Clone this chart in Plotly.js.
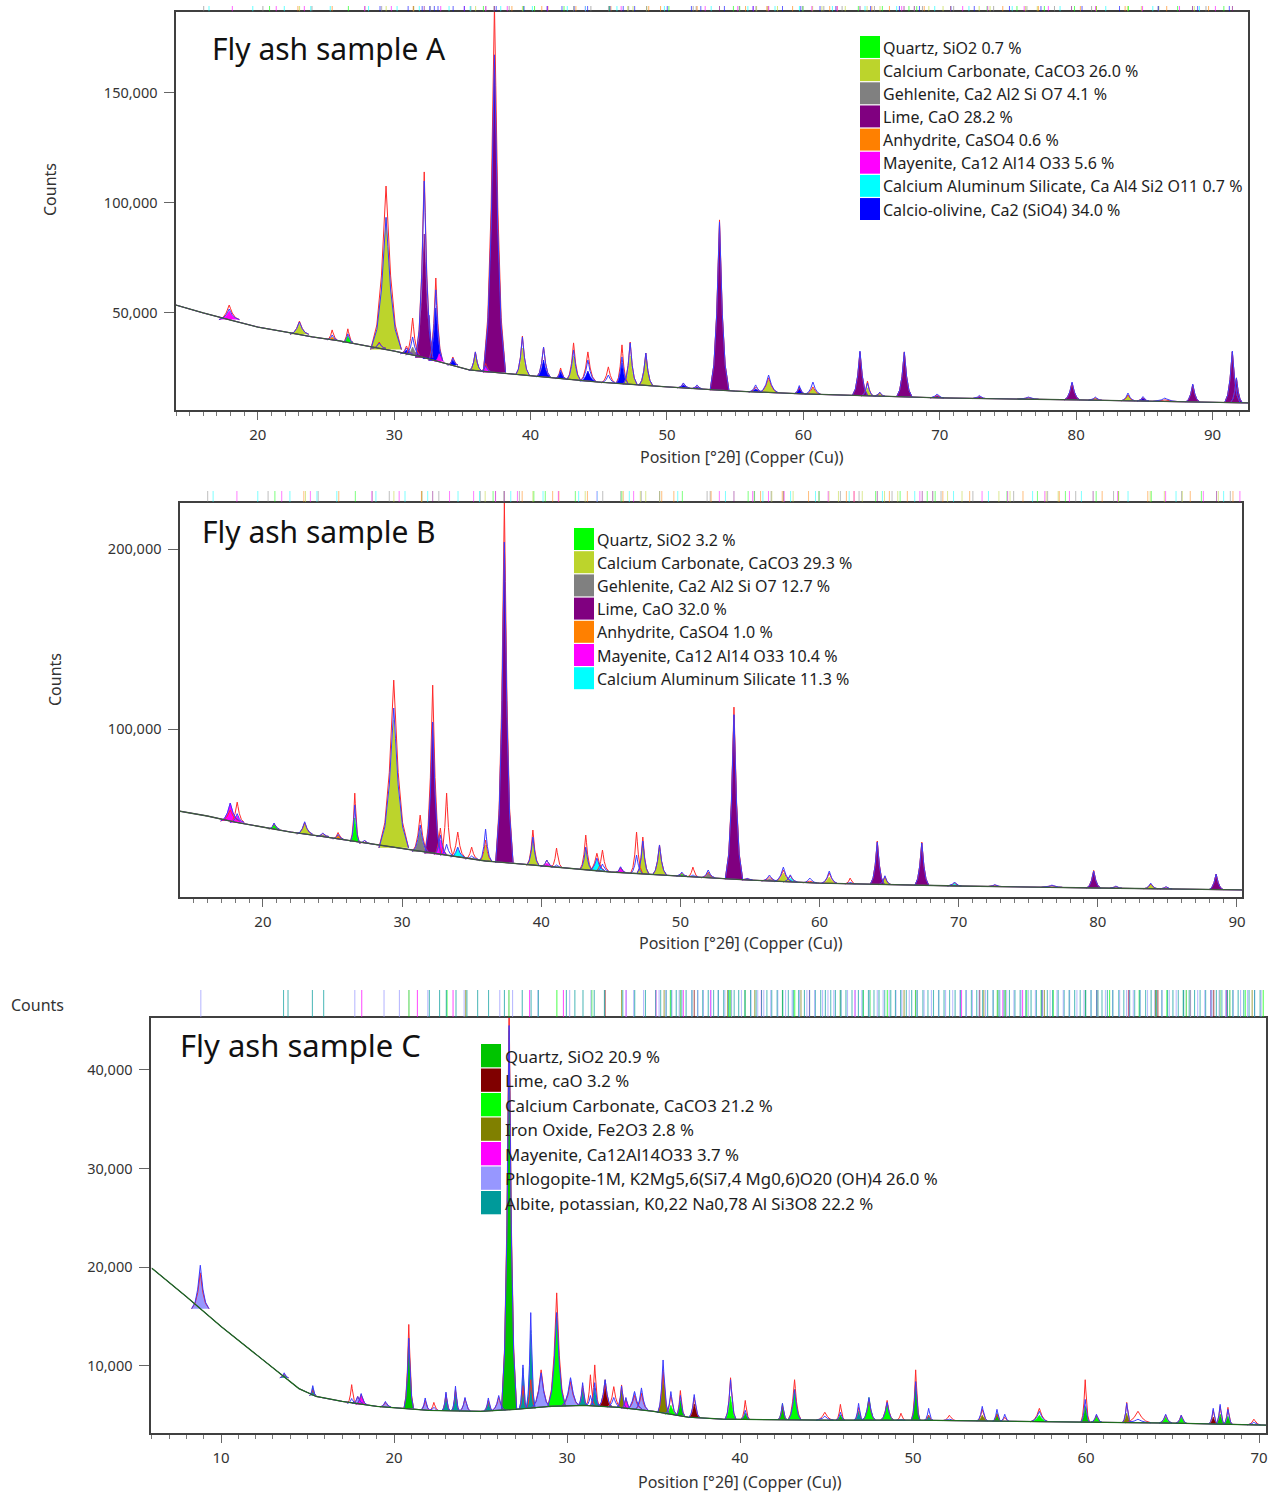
<!DOCTYPE html>
<html><head><meta charset="utf-8">
<script src="https://cdn.plot.ly/plotly-3.0.1.min.js"></script>
<style>html,body{margin:0;padding:0;background:#fff}#chart{width:1275px;height:1494px}</style>
</head><body><div id="chart"></div>
<script>
// ================= DATA =================
// ---- Panel A (Fly ash sample A) ----
const A_title = "Fly ash sample A";
const A_names = ["Quartz, SiO2 0.7 %", "Calcium Carbonate, CaCO3 26.0 %", "Gehlenite, Ca2 Al2 Si O7 4.1 %", "Lime, CaO 28.2 %", "Anhydrite, CaSO4 0.6 %", "Mayenite, Ca12 Al14 O33 5.6 %", "Calcium Aluminum Silicate, Ca Al4 Si2 O11 0.7 %", "Calcio-olivine, Ca2 (SiO4) 34.0 %"];
const A_bgX = [14, 16, 18, 20, 22, 24, 26, 28, 30, 32, 34, 35.5, 37, 40, 45, 50, 55, 60, 70, 80, 92.6];
const A_bgY = [53600, 50000, 46800, 43600, 41400, 39100, 37300, 35000, 32700, 30000, 26800, 24100, 23200, 21400, 18600, 16400, 14500, 13200, 11400, 10500, 9100];
const A_pos   = [17.9, 23.05, 25.45, 26.6, 28.9, 29.4, 30.9, 31.35, 32.2, 32.55, 33.05, 33.3, 34.3, 35.95, 36.7, 37.35, 39.4, 40.95, 42.2, 43.15, 44.2, 45.7, 46.7, 47.3, 48.45, 51.2, 52.2, 53.85, 56.5, 57.45, 59.7, 60.7, 64.15, 64.7, 65.6, 67.4, 69.8, 72.9, 76.5, 79.7, 81.4, 83.8, 84.9, 86.5, 88.55, 91.45, 91.75];
const A_phase = [5, 1, 4, 0, 7, 1, 7, 2, 3, 7, 7, 5, 7, 1, 5, 3, 1, 7, 7, 1, 7, -1, 7, 1, 1, 7, 7, 3, 7, 1, 7, 1, 3, 1, 1, 3, 7, 7, -1, 3, 1, 1, 7, -1, 3, 3, 3];
const A_base  = [47000, 40300, 37800, 36600, 33900, 33400, 31500, 30900, 29700, 29100, 28300, 27900, 26300, 23800, 23400, 23000, 21800, 20900, 20200, 19600, 19000, 18300, 17900, 17600, 17100, 16000, 15600, 14900, 14100, 13800, 13300, 13100, 12400, 12300, 12200, 11900, 11400, 11100, 10800, 10500, 10300, 10100, 10000, 9800, 9600, 9200, 9200];
const A_fill  = [50900, 45000, 39100, 39500, 35500, 93200, 33200, 34500, 85900, 49000, 52300, 31500, 28600, 31800, 25500, 167300, 34100, 28600, 23200, 30500, 23600, null, 27300, 30500, 30900, 17300, 16400, 90000, 15500, 19500, 16400, 15900, 31800, 16000, 13500, 31800, 12300, 11800, null, 18200, 11200, 12700, 11300, null, 17300, 32300, 20000];
const A_calc  = [51800, 45900, 40000, 40500, 36400, 93500, 34100, 39100, 110000, null, 60500, null, 29500, 32300, 26000, 167300, 39100, 34500, 24000, 33200, 28600, 21800, 30000, 36400, 31800, 18200, 17300, 91400, 17300, 21800, 17000, 18600, 32700, 18200, 14000, 32300, 13200, 12500, 11800, 18600, 11800, 13600, 12000, 11300, 17700, 32700, 20500];
const A_obs   = [53600, 46300, 42300, 42800, 36800, 107700, 35000, 47700, 114100, null, 65900, null, 30000, 32300, 27000, 190000, 39500, 34500, 25000, 36400, 32300, 25500, 35500, 36800, 31800, 18000, 17000, 92300, 16400, 20500, 16000, 16400, 32300, 19000, 13800, 32300, 12500, 12000, 11500, 18200, 11400, 12700, 11500, 10500, 17300, 32300, 20500];
const A_w     = [0.6, 0.55, 0.3, 0.3, 0.4, 0.9, 0.35, 0.4, 0.5, 0.35, 0.4, 0.3, 0.3, 0.35, 0.3, 0.65, 0.4, 0.4, 0.3, 0.4, 0.45, 0.4, 0.35, 0.4, 0.4, 0.35, 0.3, 0.55, 0.4, 0.55, 0.3, 0.45, 0.45, 0.35, 0.3, 0.45, 0.4, 0.4, 0.6, 0.45, 0.4, 0.4, 0.35, 0.7, 0.4, 0.45, 0.35];

// ---- Panel B ----
const B_title = "Fly ash sample B";
const B_names = ["Quartz, SiO2 3.2 %", "Calcium Carbonate, CaCO3 29.3 %", "Gehlenite, Ca2 Al2 Si O7 12.7 %", "Lime, CaO 32.0 %", "Anhydrite, CaSO4 1.0 %", "Mayenite, Ca12 Al14 O33 10.4 %", "Calcium Aluminum Silicate 11.3 %"];
const B_bgX = [14, 16, 18, 20, 22, 24, 26, 28, 30, 32, 34, 36, 37, 40, 45, 50, 55, 60, 70, 80, 90.4];
const B_bgY = [54400, 51700, 48300, 45600, 42800, 40600, 38300, 35600, 33300, 31100, 28900, 26700, 26100, 23900, 20600, 18300, 16100, 14400, 12800, 11700, 10600];
const B_pos   = [17.65, 18.15, 20.8, 23.0, 24.3, 25.4, 26.6, 27.3, 29.4, 31.3, 32.2, 32.75, 33.2, 34.0, 35.0, 36.0, 37.35, 39.4, 40.4, 41.1, 43.2, 44.0, 44.4, 45.7, 46.85, 47.3, 48.5, 50.1, 50.9, 52.0, 53.85, 54.8, 56.4, 57.4, 57.9, 59.3, 60.7, 62.2, 64.15, 64.7, 67.35, 69.7, 72.6, 76.7, 79.7, 81.3, 83.8, 84.9, 88.5];
const B_phase = [5, 5, 0, 1, 2, 4, 0, -1, 1, 2, 3, 5, -1, 6, -1, 1, 3, 1, 5, -1, 1, 6, -1, 5, -1, 1, 1, 0, -1, 2, 3, 5, 2, 1, 6, -1, 1, -1, 3, 1, 3, 6, -1, -1, 3, -1, 1, -1, 3];
const B_base  = [48900, 48100, 44500, 41700, 40300, 39000, 37500, 36500, 34000, 31900, 30900, 30300, 29800, 28900, 27800, 26700, 25800, 24300, 23600, 23200, 21800, 21300, 21100, 20300, 19700, 19500, 19000, 18300, 17900, 17400, 16600, 16200, 15600, 15300, 15100, 14600, 14300, 14000, 13700, 13600, 13200, 12800, 12500, 12100, 11700, 11600, 11300, 11200, 10800];
const B_fill  = [58900, 52000, 47200, 47800, 41300, 41100, 50600, null, 105000, 43900, 103900, 38300, null, 33900, null, 35600, 203900, 39400, 25600, null, 33900, 27200, null, 23300, null, 37200, 34400, 19500, null, 20000, 107800, 16800, 16800, 20000, 17200, null, 17800, null, 37200, 17800, 36700, 14400, null, null, 21100, null, 13900, null, 19400];
const B_calc  = [58900, 53000, 47800, 48500, 42300, 41500, 57800, 38300, 111700, 46700, 103900, 41100, 36000, 34400, 29500, 44400, 203900, 40000, 27200, 24500, 34400, 28300, 25000, 23500, 30000, 37800, 35600, 20500, 19000, 21700, 108000, 17200, 18900, 23300, 19000, 17200, 21100, 14800, 37200, 18500, 36700, 15000, 13600, 13300, 21100, 12800, 14400, 12500, 19400];
const B_obs   = [55000, 59400, 47500, 48000, 42000, 42500, 64400, 38000, 127200, 52200, 124400, 45000, 64400, 42800, 34400, 38300, 226000, 43900, 27200, 33900, 41100, 31000, 32800, 23000, 42800, 40000, 35600, 20000, 23300, 20500, 112200, 17000, 17800, 21700, 18500, 15500, 20000, 17200, 37800, 18000, 37200, 14500, 13300, 13000, 21500, 12500, 13900, 12300, 19400];
const B_w     = [0.55, 0.4, 0.3, 0.45, 0.35, 0.3, 0.25, 0.3, 0.85, 0.45, 0.45, 0.35, 0.35, 0.4, 0.35, 0.35, 0.5, 0.35, 0.35, 0.3, 0.35, 0.45, 0.35, 0.3, 0.35, 0.35, 0.4, 0.3, 0.3, 0.4, 0.5, 0.3, 0.45, 0.5, 0.4, 0.4, 0.45, 0.3, 0.4, 0.35, 0.4, 0.4, 0.4, 0.6, 0.4, 0.35, 0.4, 0.35, 0.4];

// ---- Panel C ----
const C_title = "Fly ash sample C";
const C_names = ["Quartz, SiO2 20.9 %", "Lime, caO 3.2 %", "Calcium Carbonate, CaCO3 21.2 %", "Iron Oxide, Fe2O3 2.8 %", "Mayenite, Ca12Al14O33 3.7 %", "Phlogopite-1M, K2Mg5,6(Si7,4 Mg0,6)O20 (OH)4 26.0 %", "Albite, potassian, K0,22 Na0,78 Al Si3O8 22.2 %"];
const C_bgX = [6, 8, 10, 12, 13.6, 14.5, 15.5, 17, 19, 22, 25, 27, 29, 31, 33, 35, 37, 39, 45, 50, 55, 60, 65, 70.4];
const C_bgY = [19900, 17000, 14000, 11200, 8900, 7700, 6900, 6400, 5900, 5500, 5400, 5600, 5900, 6000, 5800, 5400, 4800, 4600, 4500, 4500, 4400, 4300, 4200, 4000];
const C_pos   = [8.8, 13.65, 15.3, 17.55, 17.9, 18.1, 19.5, 20.85, 21.8, 22.3, 23.0, 23.55, 24.1, 25.45, 26.05, 26.65, 27.45, 27.9, 28.5, 29.4, 30.2, 30.9, 31.35, 31.6, 32.2, 32.7, 33.15, 33.4, 33.9, 34.3, 35.55, 36.0, 36.55, 37.35, 39.45, 40.3, 42.45, 43.15, 44.9, 45.8, 46.85, 47.45, 48.5, 49.3, 50.15, 50.9, 52.1, 54.0, 54.85, 55.3, 57.3, 59.95, 60.6, 62.35, 63.0, 64.6, 65.5, 67.35, 67.75, 68.2, 69.7];
const C_phase = [5, 6, 6, -1, 5, 4, 5, 0, 5, -1, 6, 6, 5, 6, 5, 0, 6, 6, 5, 2, 5, 6, -1, 6, 1, -1, 3, 4, 5, 5, 3, 2, 0, 1, 2, 0, 0, 2, -1, 0, 6, 2, 2, -1, 0, 6, -1, 3, 0, -1, 2, 0, 2, 3, -1, 2, 2, 1, 0, 0, -1];
const C_base  = [15800, 8800, 7000, 6200, 6200, 6100, 5850, 5700, 5550, 5500, 5470, 5450, 5430, 5450, 5500, 5570, 5650, 5700, 5820, 5920, 5960, 6000, 5960, 5940, 5880, 5830, 5770, 5720, 5620, 5540, 5240, 5100, 4940, 4770, 4600, 4580, 4540, 4530, 4500, 4500, 4500, 4500, 4500, 4500, 4500, 4480, 4460, 4420, 4400, 4390, 4350, 4300, 4290, 4250, 4240, 4210, 4190, 4120, 4110, 4090, 4030];
const C_fill  = [19500, 9100, 7900, null, 6800, 7100, 6300, 12800, 6550, null, 7050, 7550, 6400, 6300, 6500, 44000, 9800, 13600, 9300, 15400, 8800, 7600, null, 7800, 8600, null, 7570, 6550, 7400, 7500, 9100, 6000, 6500, 6150, 6900, 5200, 6200, 7600, null, 5000, 5400, 6800, 6300, null, 8400, 5000, null, 5000, 5200, null, 5000, 5900, 4900, 5200, null, 4800, 4800, 4800, 5100, 4900, null];
const C_calc  = [20200, 9300, 8000, 6700, 6900, 7200, 6400, 12800, 6750, 5800, 7350, 7950, 6800, 6750, 7000, 44500, 10100, 15400, 9300, 15400, 8800, 8300, 7000, 8300, 8600, 6800, 7970, 6800, 7400, 7770, 10600, 7400, 7000, 7100, 8600, 5500, 6200, 7600, 4900, 5300, 6200, 6800, 6300, 4600, 8400, 5700, 4600, 5900, 5600, 5100, 5400, 6600, 5100, 6200, 4600, 5100, 5000, 5700, 6100, 5600, 4300];
const C_obs   = [19400, 9200, 7600, 8100, 6900, 7100, 6300, 14200, 6500, 6300, 7200, 7600, 6700, 6500, 6800, 47000, 8000, 8600, 9600, 17400, 8400, 8000, 9100, 10100, 8100, 7900, 8070, 6700, 7000, 7200, 9600, 7000, 7500, 6800, 8800, 6500, 6000, 8600, 5300, 6100, 5800, 6600, 6500, 5200, 9600, 5000, 5000, 5600, 5100, 4800, 5700, 8600, 5000, 6300, 5400, 5000, 5000, 5500, 5900, 5800, 4600];
const C_w     = [0.4, 0.2, 0.15, 0.2, 0.25, 0.25, 0.25, 0.22, 0.2, 0.2, 0.18, 0.18, 0.25, 0.2, 0.3, 0.35, 0.17, 0.2, 0.4, 0.4, 0.4, 0.2, 0.2, 0.2, 0.3, 0.3, 0.2, 0.2, 0.35, 0.3, 0.25, 0.25, 0.2, 0.25, 0.25, 0.2, 0.2, 0.3, 0.4, 0.2, 0.2, 0.3, 0.3, 0.2, 0.2, 0.2, 0.3, 0.25, 0.2, 0.2, 0.4, 0.2, 0.25, 0.2, 0.6, 0.3, 0.25, 0.2, 0.2, 0.2, 0.3];

// ---- Reference line positions (phase stick patterns shown above the frames) ----
const refQuartz    = [20.86, 26.64, 36.54, 39.47, 40.29, 42.45, 45.79, 50.14, 54.87, 55.33, 59.96, 64.03, 65.79, 67.74, 68.14, 68.31, 73.47, 75.66, 77.67, 79.88, 81.49, 83.84, 87.44, 90.83];
const refCalcite   = [23.06, 29.41, 31.43, 35.97, 39.40, 43.16, 47.12, 47.51, 48.51, 56.57, 57.40, 58.10, 60.68, 61.36, 63.07, 64.67, 65.62, 69.20, 70.24, 72.89, 73.69, 76.29, 77.15, 81.49, 83.76, 84.78, 86.07, 88.66];
const refGehlenite = [16.03, 20.37, 23.97, 27.86, 29.08, 31.42, 32.64, 35.62, 36.71, 37.31, 38.43, 44.42, 45.71, 47.19, 48.51, 51.92, 52.14, 55.30, 56.52, 57.41, 59.97, 61.50, 62.84, 65.21, 68.73, 71.02, 73.95, 76.39, 78.41, 81.13, 86.02, 89.52];
const refLime      = [32.20, 37.35, 53.85, 64.15, 67.38, 79.66, 88.53, 91.46];
const refAnhydrite = [22.94, 25.45, 31.39, 38.63, 40.82, 41.27, 43.32, 45.89, 48.66, 49.53, 52.21, 55.76, 57.32, 59.21, 61.93, 62.48, 65.02, 66.31, 68.86, 70.79, 74.62, 77.23, 80.31, 83.59, 86.64, 89.71];
const refMayenite  = [18.13, 21.35, 23.41, 27.83, 29.79, 33.41, 35.14, 36.72, 38.29, 41.23, 44.01, 46.64, 52.80, 55.19, 56.33, 57.46, 60.62, 62.48, 67.21, 68.13, 71.68, 73.52, 76.19, 77.96, 81.42, 84.87, 87.58, 90.21];
const refCAS       = [16.42, 19.63, 21.94, 23.88, 25.31, 28.12, 30.21, 31.84, 34.02, 35.57, 37.81, 40.13, 42.69, 44.02, 46.33, 49.81, 53.24, 55.93, 57.92, 59.71, 62.13, 64.52, 66.84, 69.63, 72.14, 75.31, 78.82, 82.17, 85.62, 89.04];
const refOlivine   = [28.96, 31.02, 32.05, 32.61, 32.94, 33.21, 34.32, 35.14, 37.48, 39.52, 41.21, 42.30, 43.19, 44.18, 45.82, 46.79, 47.63, 50.02, 51.79, 52.48, 54.21, 56.31, 58.47, 59.81, 61.22, 62.38, 64.93, 67.04, 68.51, 70.82, 72.53, 75.11, 77.42, 80.43, 83.18, 86.02, 88.91, 91.23];
const refC_FeOx    = [24.14, 33.15, 35.61, 39.28, 40.85, 43.52, 49.48, 54.09, 57.59, 62.45, 64.01, 66.03, 69.60];
const refC_Phlog   = [8.83, 17.73, 19.42, 20.31, 21.95, 24.05, 26.11, 26.85, 28.32, 30.15, 31.38, 33.42, 33.85, 34.42, 35.32, 36.06, 37.21, 37.88, 38.74, 39.51, 40.62, 41.37, 42.18, 43.01, 43.86, 44.77, 45.42, 46.21, 47.04, 47.93, 48.62, 49.35, 50.22, 51.06, 51.88, 52.71, 53.43, 54.19, 55.02, 55.83, 56.66, 57.49, 58.32, 59.05, 59.88, 60.69, 61.53, 62.34, 63.12, 63.97, 64.81, 65.62, 66.45, 67.28, 68.06, 68.93, 69.74];
const refC_Phlog2  = [35.71, 36.48, 37.55, 38.33, 39.12, 40.08, 41.02, 41.77, 42.63, 43.44, 44.31, 45.08, 45.83, 46.66, 47.49, 48.27, 49.01, 49.78, 50.64, 51.47, 52.29, 53.08, 53.81, 54.62, 55.41, 56.24, 57.07, 57.92, 58.68, 59.47, 60.28, 61.12, 61.94, 62.73, 63.55, 64.39, 65.21, 66.04, 66.86, 67.69, 68.51, 69.33, 70.12];
const refC_Albite  = [13.61, 13.87, 15.28, 15.93, 22.04, 22.63, 23.02, 23.58, 24.21, 24.83, 25.46, 26.38, 27.41, 27.92, 28.34, 29.96, 30.45, 30.92, 31.57, 32.16, 33.22, 33.91, 34.53, 35.12, 35.73, 36.31, 36.88, 37.55, 38.16, 38.74, 39.33, 39.92, 40.61, 41.24, 41.83, 42.47, 43.08, 43.72, 44.35, 44.93, 45.51, 46.12, 46.84, 47.42, 48.03, 48.71, 49.28, 49.92, 50.57, 51.18, 51.79, 52.43, 53.06, 53.68, 54.31, 54.96, 55.57, 56.19, 56.82, 57.44, 58.07, 58.73, 59.34, 59.98, 60.61, 61.23, 61.89, 62.52, 63.11, 63.76, 64.38, 65.02, 65.64, 66.27, 66.91, 67.53, 68.17, 68.79, 69.42, 70.06];
const refC_Albite2 = [35.41, 36.02, 36.63, 37.22, 37.84, 38.47, 39.05, 39.66, 40.28, 40.93, 41.55, 42.14, 42.79, 43.38, 44.02, 44.66, 45.24, 45.83, 46.47, 47.11, 47.74, 48.36, 48.98, 49.61, 50.24, 50.86, 51.49, 52.11, 52.74, 53.37, 54.02, 54.63, 55.26, 55.89, 56.51, 57.13, 57.76, 58.39, 59.02, 59.66, 60.29, 60.92, 61.55, 62.18, 62.81, 63.44, 64.07, 64.71, 65.33, 65.96, 66.59, 67.22, 67.85, 68.48, 69.11, 69.74];

const axisTitleX = "Position [°2θ] (Copper (Cu))";
const axisTitleY = "Counts";

// ================= STYLE / BUILD =================
const W = 1275, H = 1494;
const px = x => x / W, py = y => 1 - y / H;
const FONT = "Noto Sans, Open Sans, DejaVu Sans, sans-serif";
const colAB = ['#00ff00', '#bcd42c', '#808080', '#800080', '#ff8000', '#ff00ff', '#00ffff', '#0000ff'];
const colC  = ['#00c400', '#800000', '#00ff00', '#808000', '#ff00ff', '#9797ff', '#009a9a'];
// peak profile template (relative offsets / relative heights) and width scale
const WSCALE = 1.25;
const shapeT = [-1, -0.6, -0.3, -0.12, 0, 0.12, 0.3, 0.6, 1];
const shapeF = [0, 0.15, 0.45, 0.78, 1, 0.78, 0.45, 0.15, 0];

function addOutline(xs, ys, pos, base, top, w) {
  for (let j = 0; j < shapeT.length; j++) {
    xs.push(pos + shapeT[j] * w * WSCALE);
    ys.push(base + shapeF[j] * (top - base));
  }
  xs.push(null); ys.push(null);
}

const panels = [
  {pos: A_pos, ph: A_phase, base: A_base, fill: A_fill, calc: A_calc, obs: A_obs, w: A_w, bgX: A_bgX, bgY: A_bgY,
   colors: colAB, order: [7, 6, 4, 2, 0, 1, 3, 5], xa: 'x', ya: 'y', bgCol: '#3d5a3d'},
  {pos: B_pos, ph: B_phase, base: B_base, fill: B_fill, calc: B_calc, obs: B_obs, w: B_w, bgX: B_bgX, bgY: B_bgY,
   colors: colAB, order: [6, 4, 2, 0, 1, 3, 5], xa: 'x2', ya: 'y2', bgCol: '#3d5a3d'},
  {pos: C_pos, ph: C_phase, base: C_base, fill: C_fill, calc: C_calc, obs: C_obs, w: C_w, bgX: C_bgX, bgY: C_bgY,
   colors: colC, order: [5, 6, 3, 4, 1, 2, 0], xa: 'x3', ya: 'y3', bgCol: '#1f6b1f'}
];

const traces = [];
panels.forEach(P => {
  // phase fills
  P.order.forEach(k => {
    const xs = [], ys = [];
    P.pos.forEach((p, i) => {
      if (P.ph[i] === k && P.fill[i] != null) addOutline(xs, ys, p, P.base[i], P.fill[i], P.w[i]);
    });
    if (xs.length) traces.push({type: 'scatter', mode: 'lines', x: xs, y: ys, fill: 'toself',
      fillcolor: P.colors[k], line: {width: 0.7, color: P.colors[k]}, xaxis: P.xa, yaxis: P.ya,
      hoverinfo: 'skip', showlegend: false});
  });
  // observed (red) and calculated (blue) profiles
  [['obs', '#ff2a2a'], ['calc', '#3a3aff']].forEach(([key, col]) => {
    const xs = P.bgX.slice(), ys = P.bgY.slice();
    xs.push(null); ys.push(null);
    P.pos.forEach((p, i) => {
      if (P[key][i] != null) addOutline(xs, ys, p, P.base[i], P[key][i], P.w[i]);
    });
    traces.push({type: 'scatter', mode: 'lines', x: xs, y: ys, line: {width: 1, color: col},
      xaxis: P.xa, yaxis: P.ya, hoverinfo: 'skip', showlegend: false});
  });
  // background
  traces.push({type: 'scatter', mode: 'lines', x: P.bgX, y: P.bgY, line: {width: 1.3, color: P.bgCol},
    xaxis: P.xa, yaxis: P.ya, hoverinfo: 'skip', showlegend: false});
});

// reference stick strips
function addStrip(list, color, xa, ya, op, lw) {
  const xs = [], ys = [];
  list.forEach(p => { xs.push(p, p, null); ys.push(0, 1, null); });
  traces.push({type: 'scatter', mode: 'lines', x: xs, y: ys, line: {width: lw || 1, color: color}, opacity: op,
    xaxis: xa, yaxis: ya, hoverinfo: 'skip', showlegend: false});
}
const refAB = [refQuartz, refCalcite, refGehlenite, refLime, refAnhydrite, refMayenite, refCAS, refOlivine];
refAB.forEach((l, k) => addStrip(l, colAB[k], 'x', 'y4', 0.6));
refAB.slice(0, 7).forEach((l, k) => addStrip(l, colAB[k], 'x2', 'y5', 0.5));
const refC = [refQuartz.filter(v => v < 70.4), refLime.filter(v => v < 70.4), refCalcite.filter(v => v < 70.4),
  refC_FeOx, refMayenite.filter(v => v < 70.4), refC_Phlog, refC_Albite];
refC.forEach((l, k) => addStrip(l, colC[k], 'x3', 'y6', 0.65, 1.1));
addStrip(refC_Phlog2, colC[5], 'x3', 'y6', 0.6, 1.1);
addStrip(refC_Albite2, colC[6], 'x3', 'y6', 0.6, 1.1);

// axes
function xAxis(dom, range, anchor) {
  return {domain: dom, range: range, anchor: anchor, showline: true, mirror: true, linecolor: '#404040', linewidth: 1.6,
    ticks: 'outside', ticklen: 8, tickwidth: 1, tickcolor: '#666', dtick: 10, tick0: 0,
    minor: {dtick: 1, ticks: 'outside', ticklen: 4, tickcolor: '#777', tickwidth: 1},
    tickfont: {family: FONT, size: 15, color: '#333'}, ticklabelstandoff: 2,
    showgrid: false, zeroline: false, fixedrange: true};
}
function yAxis(dom, range, anchor, vals) {
  return {domain: dom, range: range, anchor: anchor, showline: true, mirror: true, linecolor: '#404040', linewidth: 1.6,
    ticks: 'outside', ticklen: 10, tickwidth: 1, tickcolor: '#666', tickvals: vals, tickformat: ',d',
    tickfont: {family: FONT, size: 14.5, color: '#333'}, ticklabelstandoff: 4,
    showgrid: false, zeroline: false, fixedrange: true};
}
function stripAxis(dom, anchor) {
  return {domain: dom, range: [0, 1], anchor: anchor, visible: false, fixedrange: true};
}

const shapes = [], annotations = [];
function legend(names, colors, x0, top, step, textX, fs) {
  names.forEach((n, i) => {
    shapes.push({type: 'rect', xref: 'paper', yref: 'paper', x0: px(x0), x1: px(x0 + 20),
      y0: py(top + i * step + step - 1.2), y1: py(top + i * step), fillcolor: colors[i], line: {width: 0}, layer: 'above'});
    annotations.push({xref: 'paper', yref: 'paper', x: px(textX), y: py(top + i * step + step / 2), xanchor: 'left', yanchor: 'middle',
      text: n, showarrow: false, font: {family: FONT, size: fs, color: '#1e1e1e'}});
  });
}
legend(A_names, colAB, 860, 36, 23.15, 881, 16);
legend(B_names, colAB, 574, 528, 23.2, 595, 16);
legend(C_names, colC, 481, 1044, 24.5, 503, 16.8);

function label(text, x, y, size, opts) {
  annotations.push(Object.assign({xref: 'paper', yref: 'paper', x: px(x), y: py(y), text: text, showarrow: false,
    xanchor: 'left', yanchor: 'middle', font: {family: FONT, size: size, color: '#111'}}, opts || {}));
}
label(A_title, 210, 49, 30);
label(B_title, 200, 531, 30);
label(C_title, 178, 1045, 31);
const axFont = {family: FONT, size: 16, color: '#333'};
label(axisTitleX, 742, 457, 16, {xanchor: 'center', font: axFont});
label(axisTitleX, 741, 943, 16, {xanchor: 'center', font: axFont});
label(axisTitleX, 740, 1482, 16, {xanchor: 'center', font: axFont});
label(axisTitleY, 50, 190, 16, {xanchor: 'center', textangle: -90, font: axFont});
label(axisTitleY, 55, 680, 16, {xanchor: 'center', textangle: -90, font: axFont});
label(axisTitleY, 37, 1005, 16, {xanchor: 'center', font: axFont});

const layout = {
  width: W, height: H, margin: {l: 0, r: 0, t: 0, b: 0}, paper_bgcolor: '#fff', plot_bgcolor: '#fff',
  font: {family: FONT}, showlegend: false,
  xaxis:  xAxis([px(176), px(1248)], [14, 92.6], 'y'),
  yaxis:  yAxis([py(410), py(12)], [5900, 186800], 'x', [50000, 100000, 150000]),
  xaxis2: xAxis([px(180), px(1242)], [14.04, 90.36], 'y2'),
  yaxis2: yAxis([py(897), py(503)], [6700, 225600], 'x2', [100000, 200000]),
  xaxis3: xAxis([px(151), px(1266)], [5.95, 70.4], 'y3'),
  yaxis3: yAxis([py(1433), py(1018)], [3200, 45260], 'x3', [10000, 20000, 30000, 40000]),
  yaxis4: stripAxis([py(11.5), py(6)], 'x'),
  yaxis5: stripAxis([py(502), py(491)], 'x2'),
  yaxis6: stripAxis([py(1017), py(990)], 'x3'),
  shapes: shapes, annotations: annotations
};

Plotly.newPlot('chart', traces, layout, {displayModeBar: false, staticPlot: true});
</script></body></html>
